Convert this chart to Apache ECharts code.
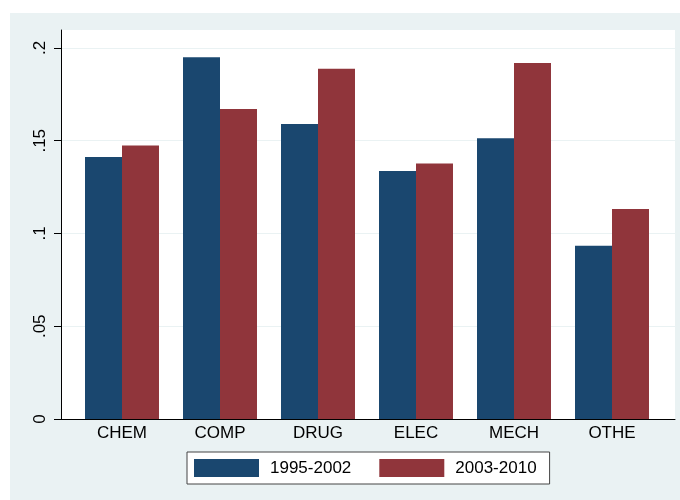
<!DOCTYPE html>
<html>
<head>
<meta charset="utf-8">
<script src="https://cdn.jsdelivr.net/npm/echarts@6/dist/echarts.min.js"></script>
<style>
  html, body { margin: 0; padding: 0; background: #ffffff; }
  #wrap { position: relative; width: 680px; height: 500px; }
  #panel { position: absolute; left: 10px; top: 13px; right: 0; bottom: 0; background: #EAF2F3; }
  #chart { position: absolute; left: 0; top: 0; width: 680px; height: 500px; }
</style>
</head>
<body>
<div id="wrap">
  <div id="panel"></div>
  <div id="chart"></div>
</div>
<script>
// Industry categories and average shares for the two periods
const categories = ['CHEM', 'COMP', 'DRUG', 'ELEC', 'MECH', 'OTHE'];
const period1Name = '1995-2002';
const period2Name = '2003-2010';
const period1 = [0.1412, 0.1950, 0.1590, 0.1337, 0.1513, 0.0934];
const period2 = [0.1474, 0.1671, 0.1888, 0.1377, 0.1919, 0.1132];
const yTicks = [0, 0.05, 0.1, 0.15, 0.2];
// the value scale runs slightly past the last tick
const yMax = 0.2097;

const FONT = '"Liberation Sans", Arial, Helvetica, sans-serif';
const BLUE = '#1A476F';
const RED = '#90353B';

const chart = echarts.init(document.getElementById('chart'), null, { renderer: 'canvas' });

function fmtTick(v) {
  const n = Number(v.toFixed(2));
  if (n === 0) return '0';
  return String(n).replace(/^0/, '');
}

chart.setOption({
  animation: false,
  textStyle: { fontFamily: FONT },
  grid: [
    // plot region: white field, y axis and gridlines
    { left: 61, right: 5, top: 30, bottom: 81, show: true, backgroundColor: '#ffffff', borderWidth: 0 },
    // bar area, inset from the plot region edges
    { left: 73, right: 19, top: 30, bottom: 81 }
  ],
  xAxis: [
    {
      gridIndex: 0, type: 'value', min: 0, max: 1,
      axisLine: { show: true, lineStyle: { color: '#000000', width: 1 } },
      axisTick: { show: false }, axisLabel: { show: false }, splitLine: { show: false }
    },
    {
      gridIndex: 1, type: 'category', data: categories,
      axisLine: { show: false }, axisTick: { show: false },
      axisLabel: { color: '#000000', fontSize: 17, fontFamily: FONT, margin: 6 }
    }
  ],
  yAxis: [
    {
      gridIndex: 0, type: 'value', min: 0, max: yMax,
      axisLine: { show: true, lineStyle: { color: '#000000', width: 1 } },
      axisTick: { show: true, length: 7, lineStyle: { color: '#000000' }, customValues: yTicks },
      axisLabel: {
        color: '#000000', fontSize: 17, fontFamily: FONT, rotate: 90, margin: 12,
        formatter: fmtTick, customValues: yTicks
      },
      splitLine: { show: true, lineStyle: { color: '#EAF2F3', width: 1 } }
    },
    {
      gridIndex: 1, type: 'value', min: 0, max: yMax, show: false
    }
  ],
  legend: {
    left: 187, top: 452,
    data: [period1Name, period2Name],
    icon: 'rect',
    itemWidth: 65, itemHeight: 18, itemGap: 28,
    padding: [7, 13, 7, 7],
    backgroundColor: '#ffffff',
    borderColor: '#444444', borderWidth: 1, borderRadius: 0,
    textStyle: { color: '#000000', fontSize: 17, fontFamily: FONT, padding: [0, 0, 0, 6] }
  },
  series: [
    {
      name: period1Name, type: 'bar', xAxisIndex: 1, yAxisIndex: 1,
      data: period1, barGap: '0%', barCategoryGap: '24.5%',
      itemStyle: { color: BLUE }
    },
    {
      name: period2Name, type: 'bar', xAxisIndex: 1, yAxisIndex: 1,
      data: period2, barGap: '0%', barCategoryGap: '24.5%',
      itemStyle: { color: RED }
    }
  ]
});
</script>
</body>
</html>
